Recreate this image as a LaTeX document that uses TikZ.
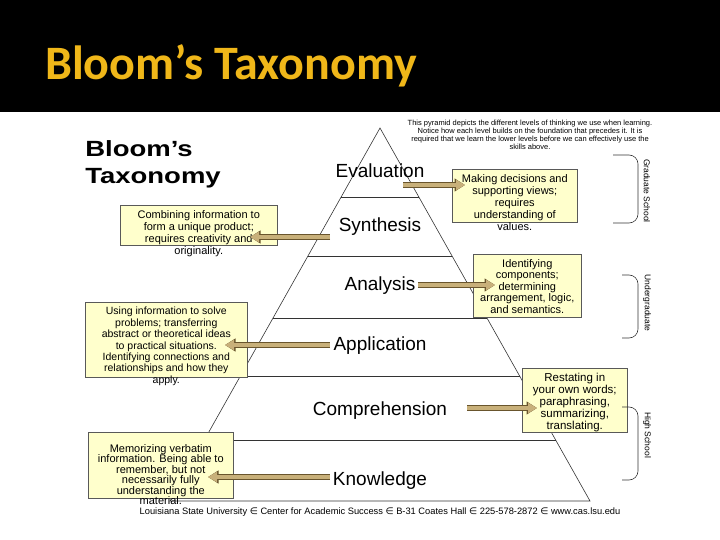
\documentclass[tikz,border=0pt]{standalone}
\usepackage{fontspec}
\setmainfont{Liberation Sans}
\newfontfamily\titlefont{Carlito}
\newfontfamily\symfont{DejaVu Sans}
\usetikzlibrary{arrows.meta,positioning}
\definecolor{titlegold}{RGB}{240,183,25}
\definecolor{boxfill}{RGB}{255,255,204}
\definecolor{arrowtan}{RGB}{200,176,122}
\definecolor{arrowedge}{RGB}{105,85,45}
\newcommand{\sep}{{\symfont ∈}}

\begin{document}
\begin{tikzpicture}[x=1pt,y=-1pt,
    pyr/.style={draw=black!80, line width=0.6pt},
    level/.style={font=\fontsize{19}{19}\selectfont, inner sep=0pt},
    infobox/.style={draw=black!65, fill=boxfill, line width=0.6pt, inner sep=0pt, anchor=north west},
    infotext/.style={font=\fontsize{11}{12}\selectfont, align=center, inner sep=0pt},
    blockarrow/.style={line width=4.5pt, draw=arrowtan, -{Triangle[length=9pt,width=10pt]},
        preaction={draw=arrowedge, line width=6pt, -{Triangle[length=10.5pt,width=12.5pt]}}},
    brace/.style={draw=black!80, line width=0.6pt, rounded corners=9pt},
    stage/.style={font=\fontsize{8.5}{9}\selectfont, rotate=-90, inner sep=0pt}]

    \useasboundingbox (0,0) rectangle (720,540);
    \fill[black] (0,0) rectangle (720,112);
    \node[anchor=base west, inner sep=0pt, text=titlegold, font=\titlefont\bfseries\fontsize{48}{48}\selectfont] (title) at (45,80) {Bloom’s Taxonomy};

    \node[anchor=north west, inner sep=0pt, align=left, xscale=1.25, font=\bfseries\fontsize{22}{27}\selectfont] (heading) at (85,140) {Bloom’s\\Taxonomy};

    \node[anchor=north, inner sep=0pt, align=center, font=\fontsize{7.5}{8}\selectfont] (note) at (530,120)
        {This pyramid depicts the different levels of thinking we use when learning.\\
         Notice how  each level builds on the foundation that precedes it.  It is\\
         required that we learn the lower levels before we can effectively use the\\
         skills above.};

    % pyramid
    \coordinate (apex) at (380,128);
    \coordinate (baseleft) at (170,501);
    \coordinate (baseright) at (590,501);
    \draw[pyr] (apex) -- (baseleft) -- (baseright) -- cycle;
    \foreach \y in {197,256,318,376,440} {
        \draw[pyr] ({380-0.563*(\y-128)},\y) -- ({380+0.563*(\y-128)},\y);
    }

    \node[level] (evaluation) at (380,171) {Evaluation};
    \node[level] (synthesis) at (380,227) {Synthesis};
    \node[level] (analysis) at (380,286) {Analysis};
    \node[level] (application) at (380,346) {Application};
    \node[level] (comprehension) at (380,411) {Comprehension};
    \node[level] (knowledge) at (380,481) {Knowledge};

    % boxes
    \node[infobox, minimum width=125, minimum height=53] (evalbox) at (452,169) {};
    \node[infotext, below=5pt of evalbox.north] (evaltext) {Making decisions and\\supporting views;\\requires\\understanding of\\values.};

    \node[infobox, minimum width=157, minimum height=40] (synthbox) at (120,205) {};
    \node[infotext, below=5pt of synthbox.north] (synthtext) {Combining information to\\form a unique product;\\requires creativity and\\originality.};

    \node[infobox, minimum width=108, minimum height=63] (analbox) at (473,254) {};
    \node[infotext, font=\fontsize{11}{11.5}\selectfont, below=5pt of analbox.north] (analtext) {Identifying\\components;\\determining\\arrangement, logic,\\and semantics.};

    \node[infobox, minimum width=162, minimum height=75] (applbox) at (85,302) {};
    \node[infotext, font=\fontsize{10.5}{11.4}\selectfont, below=5pt of applbox.north] (appltext) {Using information to solve\\problems; transferring\\abstract or theoretical ideas\\to practical situations.\\Identifying connections and\\relationships and how they\\apply.};

    \node[infobox, minimum width=105, minimum height=64] (compbox) at (522,368) {};
    \node[infotext, font=\fontsize{11.5}{11.9}\selectfont, below=5pt of compbox.north] (comptext) {Restating in\\your own words;\\paraphrasing,\\summarizing,\\translating.};

    \node[infobox, minimum width=145, minimum height=66] (knowbox) at (88,432) {};
    \node[infotext, font=\fontsize{11}{10.5}\selectfont, below=12pt of knowbox.north] (knowtext) {Memorizing verbatim\\information. Being able to\\remember, but not\\necessarily fully\\understanding the\\material.};

    % arrows
    \coordinate (evalfrom) at (403,185);
    \coordinate (evalto) at (465,185);
    \coordinate (synthfrom) at (330,237);
    \coordinate (synthto) at (250,237);
    \coordinate (analfrom) at (418,285);
    \coordinate (analto) at (495,285);
    \coordinate (applfrom) at (330,345);
    \coordinate (applto) at (225,345);
    \coordinate (compfrom) at (467,408);
    \coordinate (compto) at (537,408);
    \coordinate (knowfrom) at (330,477);
    \coordinate (knowto) at (208,477);
    \draw[blockarrow] (evalfrom) -- (evalto);
    \draw[blockarrow] (synthfrom) -- (synthto);
    \draw[blockarrow] (analfrom) -- (analto);
    \draw[blockarrow] (applfrom) -- (applto);
    \draw[blockarrow] (compfrom) -- (compto);
    \draw[blockarrow] (knowfrom) -- (knowto);

    % braces
    \draw[brace] (613,155) -- (638,155) -- (638,223) -- (613,223);
    \draw[brace] (622,275) -- (638,275) -- (638,338) -- (622,338);
    \draw[brace] (622,407) -- (638,407) -- (638,480) -- (622,480);
    \node[stage] (grad) at (647,191) {Graduate School};
    \node[stage] (under) at (647,303) {Undergraduate};
    \node[stage] (high) at (647,435) {High School};

    \node[inner sep=0pt, font=\fontsize{9.3}{9.5}\selectfont] (footer) at (380,512)
        {Louisiana State University \sep{} Center for Academic Success \sep{} B-31 Coates Hall \sep{} 225-578-2872 \sep{} www.cas.lsu.edu};
\end{tikzpicture}
\end{document}
